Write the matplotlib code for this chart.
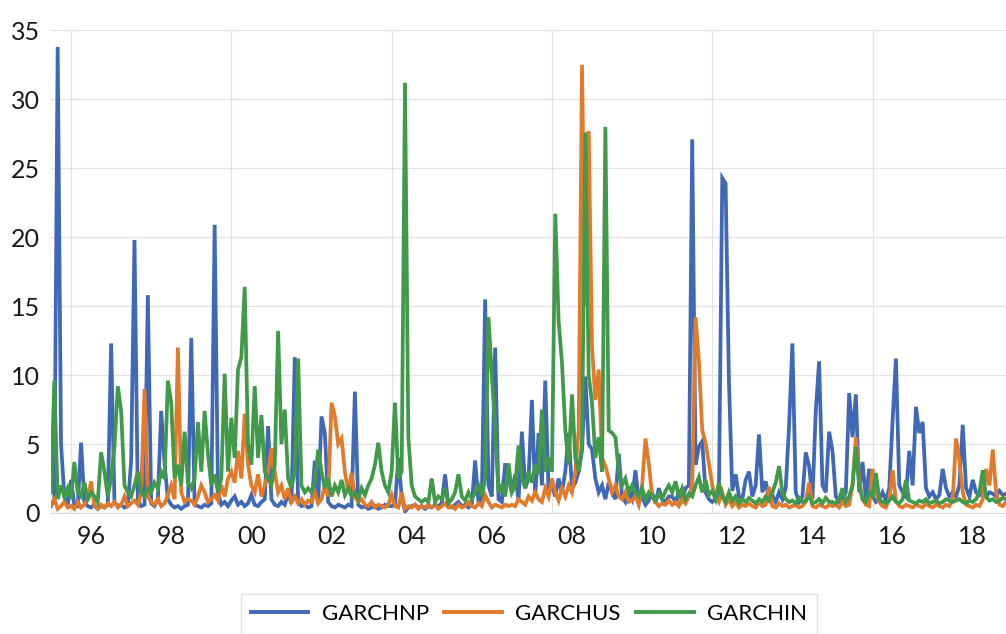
import numpy as np
import matplotlib
matplotlib.use("Agg")
import matplotlib.pyplot as plt

# Monthly readings, starting July 1995
start_year = 1995.5
garchnp = [
    0.5, 1.0, 33.8, 5.0, 1.2, 0.6,
    2.4, 0.6, 0.5, 5.1, 0.8, 0.5, 0.4, 0.6, 0.3, 0.5, 0.4, 0.6,
    12.3, 0.8, 0.5, 0.6, 0.4, 0.5, 3.8, 19.8, 0.9, 0.5, 0.6, 15.8,
    0.7, 0.5, 1.0, 7.4, 3.6, 1.0, 0.6, 0.4, 0.5, 0.3, 0.5, 0.6,
    12.7, 0.6, 0.5, 0.4, 0.6, 0.5, 0.7, 20.9, 1.5, 0.6, 0.8, 0.5,
    0.9, 1.2, 0.6, 0.8, 0.5, 0.7, 1.3, 0.6, 0.5, 0.8, 1.0, 6.3,
    1.0, 0.6, 0.5, 0.8, 0.6, 1.4, 0.7, 11.3, 0.8, 0.5, 0.6, 0.4,
    0.5, 3.8, 0.7, 7.0, 5.8, 0.8, 0.5, 0.4, 0.6, 0.5, 0.4, 0.6,
    0.5, 8.8, 0.6, 0.4, 0.5, 0.3, 0.4, 0.5, 0.3, 0.4, 0.6, 0.5,
    0.5, 0.6, 4.0, 1.2, 0.1, 0.4, 0.5, 0.6, 0.4, 0.5, 0.3, 0.5,
    0.4, 0.6, 0.5, 0.7, 2.8, 0.5, 0.4, 0.6, 0.8, 0.5, 0.6, 0.4,
    0.6, 3.8, 0.8, 1.0, 15.5, 2.0, 1.2, 12.0, 1.0, 0.8, 3.6, 2.5,
    1.5, 2.8, 0.9, 5.9, 1.8, 2.5, 8.2, 1.2, 5.8, 2.0, 9.6, 1.5,
    2.0, 1.2, 2.5, 1.5, 3.0, 5.8, 1.8, 2.2, 3.0, 4.5, 9.9, 5.0,
    4.6, 2.5, 1.5, 2.0, 1.0, 2.2, 1.5, 1.0, 4.3, 1.2, 0.8, 1.5,
    1.0, 3.1, 0.8, 1.2, 0.6, 0.9, 1.5, 0.7, 1.8, 1.0, 0.8, 1.2,
    1.2, 0.8, 1.5, 1.0, 1.8, 2.0, 27.1, 3.5, 4.8, 5.2, 1.5, 1.0,
    0.8, 1.0, 1.5, 24.3, 23.9, 9.5, 1.6, 2.8, 1.2, 1.0, 2.4, 3.0,
    1.2, 2.0, 5.7, 1.5, 2.3, 1.0, 1.3, 0.8, 1.5, 1.0, 1.8, 6.3,
    12.3, 1.5, 0.8, 1.2, 4.4, 3.4, 1.0, 7.4, 11.0, 2.0, 1.5, 5.9,
    4.5, 1.2, 0.8, 1.0, 1.5, 8.7, 5.5, 8.6, 1.5, 3.7, 1.0, 3.2,
    1.2, 0.8, 1.0, 1.5, 0.9, 1.8, 6.7, 11.2, 2.0, 1.5, 1.2, 4.5,
    2.0, 7.7, 5.8, 6.6, 1.8, 1.2, 1.5, 1.0, 1.3, 3.2, 1.8, 1.2,
    1.5, 1.2, 2.0, 6.4, 1.8, 1.2, 2.4, 1.5, 1.3, 1.6, 1.2, 1.5,
    1.4, 1.2, 1.6, 1.3, 1.4,
]
garchus = [
    0.6, 1.0, 0.3, 0.5, 0.8, 0.4,
    0.5, 0.3, 0.8, 0.4, 0.6, 1.0, 2.3, 0.5, 0.3, 0.6, 0.4, 0.7,
    0.5, 0.8, 0.4, 0.6, 1.2, 0.5, 0.7, 0.9, 0.6, 1.5, 9.0, 1.2,
    0.8, 0.6, 1.0, 0.5, 0.7, 1.3, 2.0, 1.0, 12.0, 1.5, 0.8, 1.0,
    0.9, 0.6, 1.2, 2.0, 1.5, 0.8, 1.0, 1.3, 0.9, 2.0, 1.2, 2.5,
    3.0, 2.2, 4.5, 2.5, 7.2, 3.5, 2.0, 1.5, 2.8, 1.2, 2.0, 3.0,
    4.7, 3.0, 1.5, 2.0, 1.0, 1.8, 0.8, 1.2, 0.7, 1.0, 0.6, 0.9,
    0.8, 1.5, 0.7, 1.0, 2.0, 1.2, 8.0, 7.0, 5.0, 5.4, 3.0, 1.5,
    2.9, 1.2, 0.8, 1.0, 0.6, 0.5, 0.8, 0.4, 0.6, 0.5, 0.4, 0.6,
    1.3, 0.5, 0.4, 1.5, 0.3, 0.5, 0.4, 0.6, 0.3, 0.5, 0.4, 0.6,
    0.4, 0.6, 0.3, 0.5, 0.7, 0.4, 0.5, 0.3, 0.6, 0.4, 0.5, 0.8,
    0.5, 0.4, 0.7, 0.5, 1.3, 0.8, 0.4, 0.6, 0.5, 0.4, 0.6, 0.5,
    0.6, 0.5, 1.0, 0.8, 0.6, 1.2, 0.9, 1.5, 1.0, 0.8, 1.8, 1.2,
    2.5, 1.5, 0.9, 1.8, 1.2, 2.0, 1.5, 3.0, 6.0, 32.5, 15.0, 27.7,
    12.0, 8.2, 10.4, 4.0, 3.4, 2.5, 1.5, 2.0, 1.2, 1.0, 1.5, 0.8,
    0.9, 1.2, 0.6, 2.0, 5.4, 3.6, 1.2, 0.8, 0.5, 0.7, 0.6, 0.9,
    0.6, 0.8, 0.5, 1.0, 0.7, 1.2, 2.0, 14.2, 11.0, 6.0, 5.1, 3.6,
    2.0, 1.2, 0.8, 1.5, 0.6, 1.0, 0.5, 0.8, 0.4, 0.6, 0.5, 0.7,
    0.5, 0.4, 0.8, 0.5, 0.6, 1.9, 0.5, 0.4, 0.7, 0.5, 0.6, 0.4,
    0.5, 0.6, 0.4, 0.5, 0.8, 2.2, 0.5, 0.4, 0.6, 0.5, 0.4, 0.6,
    0.5, 0.6, 0.4, 0.8, 0.5, 0.6, 2.0, 5.5, 2.4, 1.0, 0.6, 0.5,
    3.2, 1.5, 0.8, 0.5, 0.4, 1.0, 3.1, 0.9, 0.5, 0.4, 0.6, 0.5,
    0.4, 0.6, 0.5, 0.4, 0.7, 0.5, 0.4, 0.6, 0.5, 0.4, 0.6, 0.5,
    1.0, 5.4, 3.8, 1.5, 0.6, 0.5, 0.4, 0.6, 0.5, 1.0, 3.2, 2.0,
    4.6, 1.5, 0.6, 0.5, 0.8,
]
garchin = [
    1.5, 9.6, 1.0, 2.0, 1.2, 1.8,
    1.0, 3.7, 1.5, 1.2, 2.2, 1.0, 1.5, 1.2, 0.8, 4.4, 3.0, 1.2,
    2.5, 4.8, 9.2, 7.4, 2.0, 1.5, 1.2, 2.0, 3.0, 1.5, 1.2, 1.8,
    1.5, 2.2, 1.8, 3.0, 2.5, 9.6, 8.0, 2.5, 3.5, 2.0, 5.9, 2.2,
    1.8, 2.5, 6.6, 3.0, 7.4, 4.3, 2.0, 2.8, 1.5, 2.5, 10.1, 3.0,
    6.9, 4.0, 10.4, 11.3, 16.4, 5.0, 3.5, 9.2, 4.0, 7.1, 3.0, 2.5,
    2.0, 3.5, 13.2, 5.0, 7.5, 2.5, 1.8, 3.0, 11.2, 2.0, 1.5, 1.8,
    1.5, 2.2, 4.6, 3.0, 1.8, 2.5, 1.2, 2.0, 1.5, 2.4, 1.3, 1.8,
    1.2, 1.5, 1.0, 1.8, 1.3, 2.0, 2.5, 3.5, 5.1, 3.0, 2.0, 1.5,
    3.0, 8.0, 2.5, 3.0, 31.2, 5.5, 2.0, 1.2, 1.0, 0.8, 1.0, 0.8,
    2.5, 0.8, 1.2, 1.0, 1.8, 0.7, 1.0, 1.5, 2.8, 1.2, 0.9, 1.5,
    1.0, 1.5, 2.0, 1.2, 2.5, 14.2, 10.0, 6.0, 1.5, 2.0, 1.2, 3.6,
    1.5, 2.0, 4.9, 2.5, 1.8, 3.0, 2.2, 3.5, 2.8, 7.5, 3.0, 4.0,
    3.0, 21.7, 13.9, 10.9, 6.0, 3.5, 8.6, 4.0, 3.0, 5.0, 27.6, 10.0,
    8.0, 4.0, 5.5, 3.0, 28.0, 6.0, 5.8, 5.5, 3.0, 2.0, 2.5, 1.5,
    2.0, 1.5, 1.2, 1.8, 1.0, 1.5, 1.2, 0.9, 1.4, 1.0, 1.6, 2.0,
    1.5, 2.3, 1.2, 1.8, 1.0, 1.4, 1.2, 2.0, 2.6, 1.5, 2.4, 1.3,
    1.6, 1.0, 2.2, 1.2, 0.8, 1.5, 0.9, 1.2, 0.7, 1.0, 0.8, 1.1,
    0.9, 0.7, 1.0, 0.8, 1.2, 0.9, 1.5, 2.2, 3.4, 1.5, 1.0, 0.8,
    0.9, 0.7, 1.1, 0.8, 0.9, 1.2, 0.7, 0.8, 1.0, 0.7, 1.1, 0.8,
    0.8, 0.7, 1.0, 1.8, 0.8, 1.2, 2.0, 4.8, 2.0, 1.0, 0.8, 1.5,
    1.2, 2.9, 1.0, 0.8, 0.7, 0.9, 1.2, 0.8, 0.7, 1.0, 2.4, 0.9,
    0.8, 0.7, 0.9, 0.8, 1.0, 0.7, 0.8, 0.9, 0.7, 0.8, 1.0, 0.9,
    0.8, 0.9, 1.0, 0.8, 0.7, 0.9, 0.8, 1.0, 1.5, 3.1, 1.2, 0.9,
    1.0, 0.8, 0.9, 1.1, 1.0,
]
series_names = ["GARCHNP", "GARCHUS", "GARCHIN"]
colors = ["#3F68B6", "#E27A2C", "#41994A"]
tick_labels = ["96", "98", "00", "02", "04", "06", "08", "10", "12", "14", "16", "18"]
tick_years = [1996, 1998, 2000, 2002, 2004, 2006, 2008, 2010, 2012, 2014, 2016, 2018]
grid_years = [1996, 2000, 2004, 2008, 2012, 2016]

plt.rcParams['font.family'] = ['Lato', 'DejaVu Sans']

fig = plt.figure(figsize=(10.06, 6.34), dpi=100)
ax = fig.add_axes([51 / 1006, 1 - 513 / 634, 1 - 51 / 1006, (513 - 30.4) / 634])

t = start_year + np.arange(len(garchnp)) / 12.0
for vals, name, c in zip([garchnp, garchus, garchin], series_names, colors):
    ax.plot(t, vals, color=c, lw=2.7, label=name, solid_joinstyle='miter')

ax.set_xlim(1995.5, 2019.33)
ax.set_ylim(0, 35)
ax.set_yticks(np.arange(0, 36, 5))
ax.set_xticks([y + 0.5 for y in tick_years])
ax.set_xticklabels(tick_labels)
ax.set_xticks(grid_years, minor=True)
ax.tick_params(axis='both', which='both', length=0, labelsize=18, colors='#1a1a1a')
ax.tick_params(axis='y', pad=8)
ax.tick_params(axis='x', pad=9)
ax.grid(axis='y', which='major', color='#E3E3E3', lw=0.9)
ax.grid(axis='x', which='minor', color='#E3E3E3', lw=0.9)
ax.set_axisbelow(True)
for s in ['top', 'right', 'left']:
    ax.spines[s].set_visible(False)
ax.spines['bottom'].set_color('#D9D9D9')

leg = fig.legend(loc='center', bbox_to_anchor=(529 / 1006, 1 - 614 / 634), ncol=3,
                 fontsize=16, frameon=True, fancybox=False, edgecolor='#D9D9D9',
                 handlelength=2.6, handletextpad=0.6, columnspacing=0.7, borderpad=0.45)
leg.get_frame().set_linewidth(0.9)
for line in leg.get_lines():
    line.set_linewidth(2.8)

fig.savefig("out.png", dpi=100)
